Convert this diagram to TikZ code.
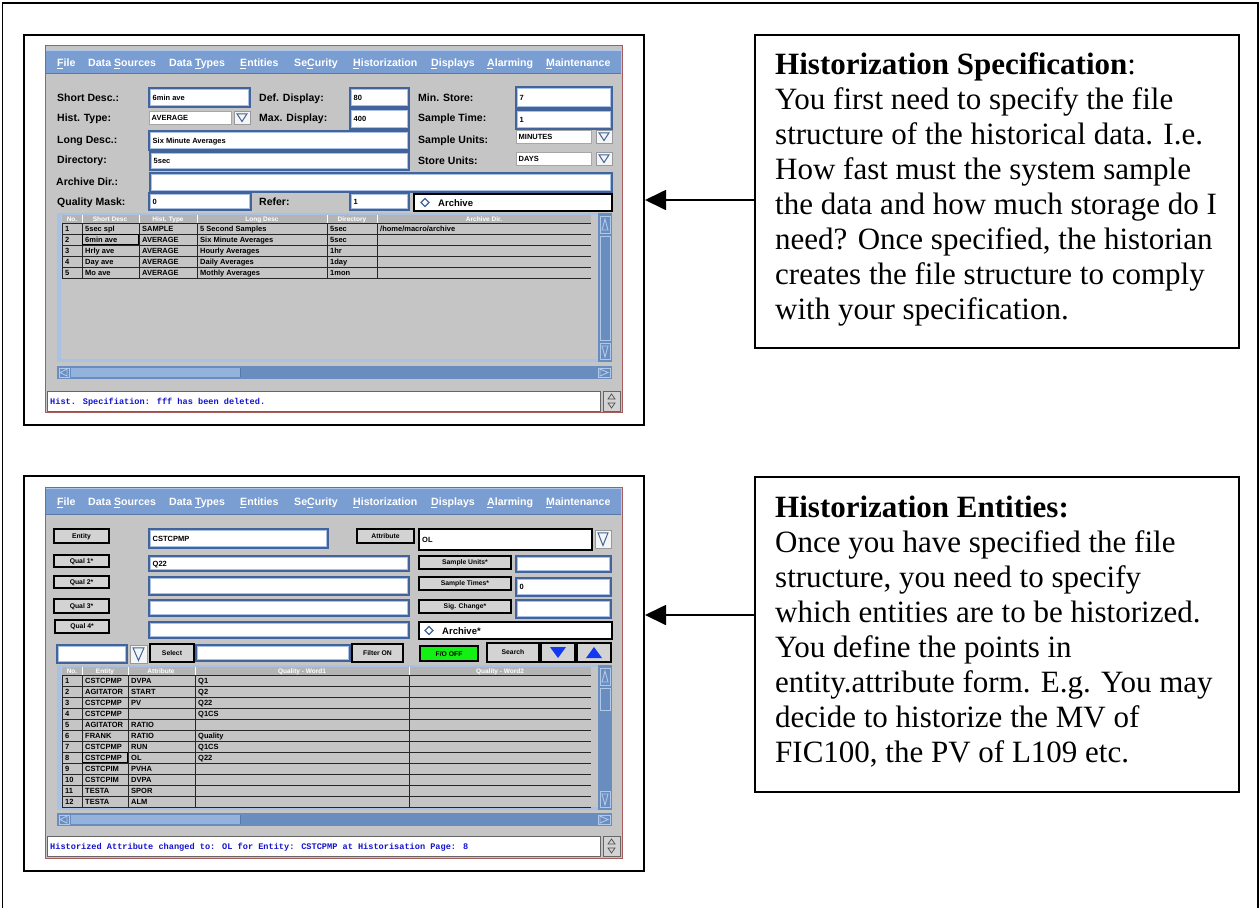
\documentclass[tikz,border=0pt]{standalone}
\usepackage{fontspec}
\setmainfont{Liberation Serif}
\newfontfamily\guifont{Liberation Sans}
\newfontfamily\msgfont{Liberation Mono}
\usetikzlibrary{arrows.meta,calc}

\definecolor{guigray}{HTML}{C5C5C5}
\definecolor{menublue}{HTML}{7A9ED2}
\definecolor{menulight}{HTML}{B0C8EA}
\definecolor{menudark}{HTML}{5878A8}
\definecolor{fieldblue}{HTML}{42649A}
\definecolor{fieldlight}{HTML}{A9C2E4}
\definecolor{winred}{HTML}{A85C5C}
\definecolor{scrollblue}{HTML}{6A8DC0}
\definecolor{thumbblue}{HTML}{93B3DD}
\definecolor{btngray}{HTML}{D3D3D3}
\definecolor{hdrgray}{HTML}{B4B4B4}
\definecolor{msgblue}{HTML}{1414D2}
\definecolor{okgreen}{HTML}{14F014}
\definecolor{arrowblue}{HTML}{1438F0}

% mnemonic dash under a menu letter
\newcommand\mn[1]{\rlap{\rule[-3.4pt]{5.5pt}{1.3pt}}#1}

% framed white entry field with text
\newcommand\infield[5]{%
  \draw[fld] (#1,#2) rectangle (#3,#4);
  \draw[fldin] ({#1+1.8},{#2+1.8}) rectangle ({#3-1.8},{#4-1.8});
  \node[ftxt] at ({#1+3.5},{(#2+#4)/2+2.7}) {#5};}
% flat drop-down field
\newcommand\ddfield[5]{%
  \draw[ddf] (#1,#2) rectangle (#3,#4);
  \node[ftxt] at ({#1+2.5},{(#2+#4)/2+2.7}) {#5};}
% drop-down button with an open triangle
\newcommand\ddbtn[4]{%
  \draw[ddb] (#1,#2) rectangle (#3,#4);
  \draw[ddtri] ({#1+3},{#2+2.8}) -- ({#3-3},{#2+2.8}) -- ({(#1+#3)/2},{#4-2.5}) -- cycle;}
% grey push button
\newcommand\gbtn[5]{%
  \draw[gbtn] (#1,#2) rectangle (#3,#4);
  \node[btxt] at ({(#1+#3)/2},{(#2+#4)/2+2.4}) {#5};}
% application menu bar
\newcommand\guimenu[3]{%
  \fill[menublue] (46,#1) rectangle (621,#2);
  \draw[menulight,line width=1.2pt] (46,{#1+0.6}) -- (621,{#1+0.6});
  \draw[menudark,line width=0.8pt] (46,{#2-0.4}) -- (621,{#2-0.4});
  \foreach \mx/\mt in {57/{\mn{F}ile}, 88/{Data \mn{S}ources}, 169/{Data \mn{T}ypes},
      240/{\mn{E}ntities}, 294/{Se\mn{C}urity}, 353/{\mn{H}istorization},
      431/{\mn{D}isplays}, 487/{\mn{A}larming}, 546/{\mn{M}aintenance}}
    \node[menu] at (\mx,#3) {\mt};}

\begin{document}
\begin{tikzpicture}[x=1pt,y=-1pt,
  shotframe/.style={draw=black, line width=2pt, inner sep=0pt},
  note/.style={draw=black, line width=1.6pt, inner sep=0pt},
  pointer/.style={line width=1.8pt, -{Triangle[length=21pt,width=20pt]}},
  notetext/.style={anchor=base west, inner sep=0pt, font=\fontsize{31}{35}\selectfont},
  win/.style={fill=guigray, draw=winred, line width=0.9pt},
  menu/.style={anchor=base west, inner sep=0pt, text=white, font=\guifont\bfseries\fontsize{10.6}{12}\selectfont},
  lbl/.style={anchor=base west, inner sep=0pt, font=\guifont\bfseries\fontsize{10.5}{12}\selectfont},
  fld/.style={fill=white, draw=fieldblue, line width=1.8pt},
  fldin/.style={draw=fieldlight, line width=0.9pt},
  ddf/.style={fill=white, draw=gray!70, line width=0.8pt},
  ddb/.style={fill=white!92!gray, draw=gray!80, line width=0.8pt},
  ddtri/.style={draw=fieldblue, line width=1pt},
  ftxt/.style={anchor=base west, inner sep=0pt, font=\guifont\bfseries\fontsize{7.5}{9}\selectfont},
  gbtn/.style={fill=btngray, draw=black, line width=1.4pt},
  btxt/.style={anchor=base, inner sep=0pt, font=\guifont\bfseries\fontsize{6.8}{8}\selectfont},
  cell/.style={anchor=base west, inner sep=0pt, font=\guifont\bfseries\fontsize{7.5}{9}\selectfont},
  hdr/.style={anchor=base, inner sep=0pt, text=white, font=\guifont\bfseries\fontsize{6.5}{8}\selectfont},
  rowline/.style={draw=black!85, line width=0.9pt},
  status/.style={anchor=base west, inner sep=0pt, text=msgblue, font=\msgfont\bfseries\fontsize{8.6}{10}\selectfont},
  sbar/.style={fill=scrollblue},
  sarrow/.style={draw=menulight, line width=0.9pt},
  radio/.style={draw=fieldblue, line width=1.2pt}]

\useasboundingbox (0,0) rectangle (1260,908);
\fill[white] (0,0) rectangle (1260,908);
% page border
\draw[line width=1.6pt] (2.5,908) -- (2.5,3) -- (1258,3) -- (1258,908);

% ================= upper screen: historization specification =================
\node[shotframe, minimum width=620pt, minimum height=390pt, anchor=north west] (shotA) at (23,34) {};
\draw[win] (45,45) rectangle (622,412);
\guimenu{50}{74}{66}

\node[lbl] at (57,101) {Short Desc.:};
\node[lbl] at (259,101) {Def. Display:};
\node[lbl] at (418,101) {Min. Store:};
\node[lbl] at (57,121) {Hist. Type:};
\node[lbl] at (259,121) {Max. Display:};
\node[lbl] at (418,121) {Sample Time:};
\node[lbl] at (57,143) {Long Desc.:};
\node[lbl] at (418,143) {Sample Units:};
\node[lbl] at (57,163) {Directory:};
\node[lbl] at (418,164) {Store Units:};
\node[lbl] at (56,185) {Archive Dir.:};
\node[lbl] at (57,205) {Quality Mask:};
\node[lbl] at (259,205) {Refer:};

\infield{149}{88}{250}{107}{6min ave}
\infield{350}{88}{409}{107}{80}
\infield{516}{87}{612}{108}{7}
\ddfield{149}{111}{231}{124}{AVERAGE}
\ddbtn{234}{111}{250}{124}
\infield{350}{109}{409}{129}{400}
\infield{516}{110}{612}{129}{1}
\infield{149}{131}{409}{150}{Six Minute Averages}
\ddfield{516}{130}{591}{143}{MINUTES}
\ddbtn{596}{130}{612}{143}
\infield{150}{152}{409}{170}{5sec}
\ddfield{516}{152}{591}{165}{DAYS}
\ddbtn{596}{152}{612}{165}
\infield{150}{173}{612}{192}{}
\infield{149}{193}{251}{210}{0}
\infield{350}{193}{409}{210}{1}
\draw[fill=white, line width=1.4pt] (414,194) rectangle (612,211);
\draw[radio] (421,202.5) -- (425,198.5) -- (429,202.5) -- (425,206.5) -- cycle;
\node[lbl, font=\guifont\bfseries\fontsize{9.5}{11}\selectfont] at (438,206.5) {Archive};

% table of history files
\fill[fieldlight] (57,213) rectangle (612,215);
\fill[fieldlight] (57,213) rectangle (61,362);
\fill[fieldlight] (57,359) rectangle (598,362);
\fill[hdrgray] (62,215) rectangle (591,222.5);
\foreach \cx in {82,139,197,327,377}
  \draw[white, line width=0.8pt] (\cx,215) -- (\cx,222.5);
\node[hdr] at (72,221) {No.};
\node[hdr] at (110,221) {Short Desc};
\node[hdr] at (168,221) {Hist. Type};
\node[hdr] at (262,221) {Long Desc};
\node[hdr] at (352,221) {Directory};
\node[hdr] at (484,221) {Archive Dir.};
\foreach \k in {0,...,5}
  \draw[rowline] (62,223+11*\k) -- (591,223+11*\k);
\foreach \cx in {62,82,139,197,327,377}
  \draw[rowline] (\cx,223) -- (\cx,278);
\foreach \n/\a/\b/\c/\d [count=\i from 0] in {1/5sec spl/SAMPLE/5 Second Samples/5sec,
    2/6min ave/AVERAGE/Six Minute Averages/5sec, 3/Hrly ave/AVERAGE/Hourly Averages/1hr,
    4/Day ave/AVERAGE/Daily Averages/1day, 5/Mo ave/AVERAGE/Mothly Averages/1mon}{
  \node[cell] at (65,231.5+11*\i) {\n};
  \node[cell] at (85,231.5+11*\i) {\a};
  \node[cell] at (142,231.5+11*\i) {\b};
  \node[cell] at (200,231.5+11*\i) {\c};
  \node[cell] at (330,231.5+11*\i) {\d};
}
\node[cell] at (380,231.5) {/home/macro/archive};
\draw[black, line width=1.3pt] (82.5,234.5) rectangle (138.5,244.5);

% scroll bars
\fill[sbar] (598,213) rectangle (612,362);
\draw[sarrow] (600,216) rectangle (610,233);
\draw[sarrow] (602,230) -- (605,219) -- (608,230) -- cycle;
\draw[sarrow] (600,236) rectangle (610,340);
\draw[sarrow] (600,343) rectangle (610,359);
\draw[sarrow] (602,346) -- (605,357) -- (608,346) -- cycle;
\fill[sbar] (57,366) rectangle (612,379);
\draw[sarrow] (59,368) rectangle (69,377);
\draw[sarrow] (67,369) -- (60,372.5) -- (67,376) -- cycle;
\fill[thumbblue] (71,368) rectangle (240,377);
\draw[menudark, line width=0.8pt] (240,368) -- (240,377);
\draw[sarrow] (598,368) rectangle (610,377);
\draw[sarrow] (600,369) -- (608,372.5) -- (600,376) -- cycle;

% message line
\draw[fill=white, draw=black!60, line width=1pt] (47,391) rectangle (600,411);
\node[status] at (50,404.5) {Hist. Specifiation: fff has been deleted.};
\draw[fill=btngray, draw=black!60, line width=0.8pt] (603,391) rectangle (620,411);
\draw[black!70, line width=0.7pt] (608,399) -- (611.5,394) -- (615,399) -- cycle;
\draw[black!70, line width=0.7pt] (608,403) -- (611.5,408) -- (615,403) -- cycle;

% ================= lower screen: historization entities =================
\node[shotframe, minimum width=620pt, minimum height=395pt, anchor=north west] (shotB) at (23,475) {};
\draw[win] (45,487) rectangle (622,858);
\guimenu{488}{515}{505}

\gbtn{54}{529}{109}{543}{Entity}
\infield{149}{529}{328}{548}{CSTCPMP}
\gbtn{357}{529}{414}{543}{Attribute}
\draw[fill=white, draw=black, line width=1.6pt] (419,529) rectangle (592,550);
\node[ftxt] at (422,542) {OL};
\ddbtn{595}{530}{611}{548}

\gbtn{54}{555}{109}{567}{Qual 1*}
\infield{149}{556}{409}{571}{Q22}
\gbtn{419}{556}{511}{569}{Sample Units*}
\infield{516}{556}{611}{572}{}

\gbtn{54}{576}{109}{588}{Qual 2*}
\infield{149}{577}{409}{595}{}
\gbtn{419}{577}{511}{590}{Sample Times*}
\infield{516}{578}{611}{596}{0}

\gbtn{54}{599}{109}{613}{Qual 3*}
\infield{149}{600}{409}{616}{}
\gbtn{419}{600}{511}{613}{Sig. Change*}
\infield{516}{600}{611}{618}{}

\gbtn{55}{620}{109}{633}{Qual 4*}
\infield{149}{622}{409}{638}{}
\draw[fill=white, line width=1.4pt] (419,622) rectangle (612,639);
\draw[radio] (425,630.5) -- (429,626.5) -- (433,630.5) -- (429,634.5) -- cycle;
\node[lbl, font=\guifont\bfseries\fontsize{9.5}{11}\selectfont] at (442,634.5) {Archive*};

\infield{57}{645}{127}{663}{}
\ddbtn{130}{645}{147}{663}
\gbtn{150}{644}{194}{662}{Select}
\infield{196}{645}{350}{661}{}
\gbtn{352}{644}{403}{662}{Filter ON}
\draw[fill=okgreen, draw=black, line width=1.6pt] (420,646) rectangle (478,661);
\node[btxt] at (449,656) {F/O OFF};
\gbtn{487}{643}{539}{662}{Search}
\draw[gbtn] (541,643) rectangle (575,662);
\fill[arrowblue] (550,647) -- (566,647) -- (558,658) -- cycle;
\draw[gbtn] (577,643) rectangle (611,662);
\fill[arrowblue] (586,658) -- (602,658) -- (594,647) -- cycle;

% table of historized points
\fill[fieldlight] (57,665) rectangle (612,667);
\fill[fieldlight] (57,665) rectangle (61,810);
\fill[fieldlight] (57,807) rectangle (598,810);
\fill[hdrgray] (62,667) rectangle (591,674.5);
\foreach \cx in {82,128,195,409}
  \draw[white, line width=0.8pt] (\cx,667) -- (\cx,674.5);
\node[hdr] at (72,673) {No.};
\node[hdr] at (105,673) {Entity};
\node[hdr] at (161,673) {Attribute};
\node[hdr] at (302,673) {Quality - Word1};
\node[hdr] at (500,673) {Quality - Word2};
\foreach \k in {0,...,12}
  \draw[rowline] (62,675+11*\k) -- (591,675+11*\k);
\foreach \cx in {62,82,128,195,409}
  \draw[rowline] (\cx,675) -- (\cx,807);
\foreach \n/\a/\b/\c [count=\i from 0] in {1/CSTCPMP/DVPA/Q1, 2/AGITATOR/START/Q2,
    3/CSTCPMP/PV/Q22, 4/CSTCPMP/{}/Q1CS, 5/AGITATOR/RATIO/{}, 6/FRANK/RATIO/Quality,
    7/CSTCPMP/RUN/Q1CS, 8/CSTCPMP/OL/Q22, 9/CSTCPIM/PVHA/{}, 10/CSTCPIM/DVPA/{},
    11/TESTA/SPOR/{}, 12/TESTA/ALM/{}}{
  \node[cell] at (65,683.5+11*\i) {\n};
  \node[cell] at (85,683.5+11*\i) {\a};
  \node[cell] at (131,683.5+11*\i) {\b};
  \node[cell] at (198,683.5+11*\i) {\c};
}
\draw[black, line width=1.3pt] (82.5,752.5) rectangle (127.5,762.5);

% scroll bars
\fill[sbar] (598,665) rectangle (612,810);
\draw[sarrow] (600,668) rectangle (610,685);
\draw[sarrow] (602,682) -- (605,671) -- (608,682) -- cycle;
\draw[sarrow] (600,688) rectangle (610,710);
\draw[sarrow] (600,791) rectangle (610,807);
\draw[sarrow] (602,794) -- (605,805) -- (608,794) -- cycle;
\fill[sbar] (57,813) rectangle (612,826);
\draw[sarrow] (59,815) rectangle (69,824);
\draw[sarrow] (67,816) -- (60,819.5) -- (67,823) -- cycle;
\fill[thumbblue] (71,815) rectangle (240,824);
\draw[menudark, line width=0.8pt] (240,815) -- (240,824);
\draw[sarrow] (598,815) rectangle (610,824);
\draw[sarrow] (600,816) -- (608,819.5) -- (600,823) -- cycle;

% message line
\draw[fill=white, draw=black!60, line width=1pt] (47,836) rectangle (600,856);
\node[status] at (50,849.5) {Historized Attribute changed to: OL for Entity: CSTCPMP at Historisation Page: 8};
\draw[fill=btngray, draw=black!60, line width=0.8pt] (603,836) rectangle (620,856);
\draw[black!70, line width=0.7pt] (608,844) -- (611.5,839) -- (615,844) -- cycle;
\draw[black!70, line width=0.7pt] (608,848) -- (611.5,853) -- (615,848) -- cycle;

% ================= explanatory notes =================
\node[note, minimum width=484pt, minimum height=313pt, anchor=north west] (noteA) at (754,34) {};
\node[notetext] (a1) at (775,74) {\textbf{Historization Specification}:};
\node[notetext] (a2) at (775,109.1) {You first need to specify the file};
\node[notetext] (a3) at (775,144.2) {structure of the historical data. I.e.};
\node[notetext] (a4) at (775,179.3) {How fast must the system sample};
\node[notetext] (a5) at (775,214.4) {the data and how much storage do I};
\node[notetext] (a6) at (775,249.5) {need? Once specified, the historian};
\node[notetext] (a7) at (775,284.6) {creates the file structure to comply};
\node[notetext] (a8) at (775,319.7) {with your specification.};

\node[note, minimum width=484pt, minimum height=315pt, anchor=north west] (noteB) at (754,476) {};
\node[notetext] (b1) at (775,517) {\textbf{Historization Entities:}};
\node[notetext] (b2) at (775,552.1) {Once you have specified the file};
\node[notetext] (b3) at (775,587.2) {structure, you need to specify};
\node[notetext] (b4) at (775,622.3) {which entities are to be historized.};
\node[notetext] (b5) at (775,657.4) {You define the points in};
\node[notetext] (b6) at (775,692.5) {entity.attribute form. E.g. You may};
\node[notetext] (b7) at (775,727.6) {decide to historize the MV of};
\node[notetext] (b8) at (775,762.7) {FIC100, the PV of L109 etc.};

% pointers from the notes to the screens
\coordinate (tipA) at (645,200);
\coordinate (tipB) at (645,615);
\draw[pointer] (noteA.west |- tipA) -- (tipA);
\draw[pointer] (noteB.west |- tipB) -- (tipB);
\end{tikzpicture}
\end{document}
